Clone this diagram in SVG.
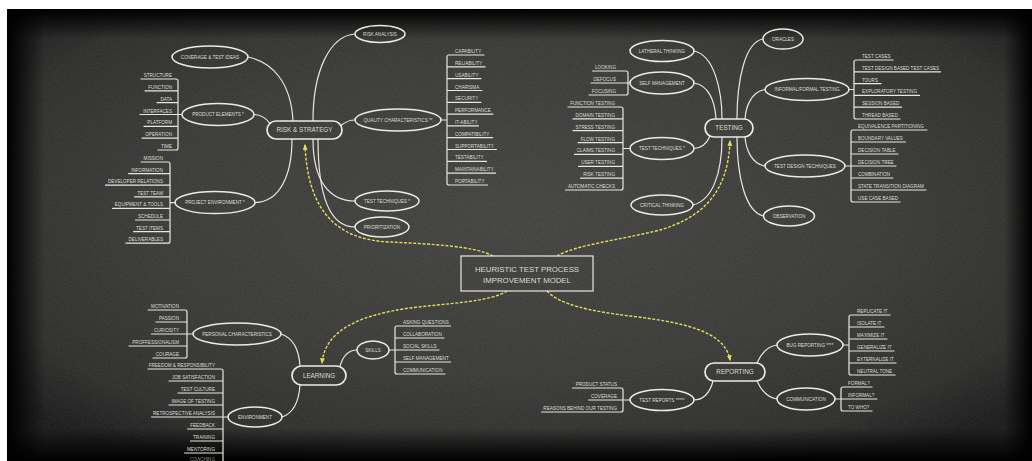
<svg xmlns="http://www.w3.org/2000/svg" width="1032" height="461" viewBox="0 0 1032 461">
<defs>
<radialGradient id="bg" cx="50%" cy="45%" r="65%">
<stop offset="0" stop-color="#454543"/>
<stop offset="0.55" stop-color="#3c3c3a"/>
<stop offset="0.85" stop-color="#30302f"/>
<stop offset="1" stop-color="#1e1e1e"/>
</radialGradient>
<linearGradient id="vt" x1="0" y1="0" x2="0" y2="1"><stop offset="0" stop-color="#000" stop-opacity="1"/><stop offset="1" stop-color="#000" stop-opacity="0"/></linearGradient>
<linearGradient id="vb" x1="0" y1="1" x2="0" y2="0"><stop offset="0" stop-color="#000" stop-opacity="1"/><stop offset="1" stop-color="#000" stop-opacity="0"/></linearGradient>
<linearGradient id="vl" x1="0" y1="0" x2="1" y2="0"><stop offset="0" stop-color="#000" stop-opacity="1"/><stop offset="1" stop-color="#000" stop-opacity="0"/></linearGradient>
<linearGradient id="vr" x1="1" y1="0" x2="0" y2="0"><stop offset="0" stop-color="#000" stop-opacity="1"/><stop offset="1" stop-color="#000" stop-opacity="0"/></linearGradient>
<filter id="noise" x="0" y="0" width="100%" height="100%">
<feTurbulence type="fractalNoise" baseFrequency="0.9" numOctaves="2" seed="3"/>
<feColorMatrix type="matrix" values="0 0 0 0 1  0 0 0 0 1  0 0 0 0 1  0 0 0 0.9 -0.35"/>
</filter>
<marker id="ah" viewBox="0 0 10 10" refX="8" refY="5" markerWidth="6" markerHeight="6" markerUnits="userSpaceOnUse" orient="auto">
<path d="M0,1 L10,5 L0,9 z" fill="#e4de5c"/>
</marker>
<style>
.e{fill:none;stroke:#ecebe4;stroke-width:1.5}
.r{fill:none;stroke:#ecebe4;stroke-width:1.7}
.l{fill:none;stroke:#e8e7e0;stroke-width:1.2;stroke-linecap:round}
.c{fill:none;stroke:#e9e8e1;stroke-width:1.2}
.d{fill:none;stroke:#e4de5c;stroke-width:1.4;stroke-dasharray:3 1.6}
text{font-family:"Liberation Sans",Arial,sans-serif;fill:#dedDd5}
.t{font-size:4.6px}
.s{font-size:4.6px;text-anchor:middle}
.m{font-size:6.3px;text-anchor:middle}
.tc{font-size:7.8px;text-anchor:middle}
.a{text-anchor:end}
</style>
</defs>
<rect width="1032" height="461" fill="#ffffff"/>
<rect x="7" y="9" width="1025" height="452" fill="url(#bg)"/>
<rect x="7" y="9" width="1025" height="452" filter="url(#noise)" opacity="0.14"/>
<rect x="7" y="9" width="1025" height="30" fill="url(#vt)"/>
<rect x="7" y="428" width="1025" height="33" fill="url(#vb)"/>
<rect x="7" y="9" width="38" height="452" fill="url(#vl)"/>
<rect x="1004" y="9" width="28" height="452" fill="url(#vr)"/>

<g id="connectors">
<path class="c" d="M248,57 C272,62 291,82 293,121"/>
<path class="c" d="M355,34 C330,36 313,70 313,121"/>
<path class="c" d="M254,114.5 C262,115 267,119 270,123.5"/>
<path class="c" d="M340.8,125.5 C346,121.5 350,120 355,120"/>
<path class="c" d="M292,139 C292,175 280,202 255,202.6"/>
<path class="c" d="M313,139 C313,182 330,201 355,201"/>
<path class="c" d="M318,139 C318,200 332,227 355,227"/>
<path class="c" d="M694,51 C714,55 722,90 722,119"/>
<path class="c" d="M694,83 C708,85 715,100 716,119"/>
<path class="c" d="M694,148.5 C702,148 707,143 710,136"/>
<path class="c" d="M693,205 C712,200 722,175 722,137"/>
<path class="c" d="M763,39 C745,42 737,80 737,119"/>
<path class="c" d="M765,89.5 C752,92 746,105 745,119"/>
<path class="c" d="M765,166 C752,164 746,150 745,137"/>
<path class="c" d="M763.5,216 C745,212 737,175 737,137"/>
<path class="c" d="M281,334 C293,338 299,350 300,366"/>
<path class="c" d="M282,417 C294,413 299,400 300,385"/>
<path class="c" d="M340,366 C343,356 349,350 357,350"/>
<path class="c" d="M757,363 C762,352 768,346 777,345"/>
<path class="c" d="M757,381 C762,392 768,398 777,399"/>
<path class="c" d="M713,381 C710,393 703,400 694,400"/>
<path class="d" marker-end="url(#ah)" d="M493,256 C475,246 430,244 390,242 C340,240 308,215 305,145"/>
<path class="d" marker-end="url(#ah)" d="M557,256 C575,245 620,240 660,230 C700,218 728,195 730,141"/>
<path class="d" marker-end="url(#ah)" d="M507,291 C490,302 450,303 410,308 C360,315 325,330 322,363"/>
<path class="d" marker-end="url(#ah)" d="M547,291 C560,305 590,311 630,316 C680,322 725,330 730,360"/>
</g>

<g id="center">
<rect x="461" y="256" width="132" height="35" fill="none" stroke="#dcdbd4" stroke-width="1.3"/>
<text class="tc" x="527" y="271.5">HEURISTIC TEST PROCESS</text>
<text class="tc" x="527" y="282.5">IMPROVEMENT MODEL</text>
</g>

<g id="risk-strategy">
<rect class="r" x="267" y="121" width="75" height="18" rx="9"/>
<text class="m" x="304.5" y="132.2">RISK &amp; STRATEGY</text>
</g>
<g id="coverage">
<ellipse class="e" cx="210" cy="57" rx="38" ry="11"/>
<text class="s" x="210" y="58.6">COVERAGE &amp; TEST IDEAS</text>
</g>
<g id="product-elements">
<ellipse class="e" cx="218" cy="114.5" rx="36" ry="11"/>
<text class="s" x="218" y="116.1">PRODUCT ELEMENTS *</text>
</g>
<g id="product-elements-list">
<path class="l" d="M141,79 H176 Q178,79 178,81 V148 Q178,150 176,150 H158 M145,90.8 H178 M157,102.6 H178 M140,114.5 H182 M144,126.3 H178 M142,138.1 H178"/>
<text class="t a" x="172" y="77">STRUCTURE</text>
<text class="t a" x="172" y="88.8">FUNCTION</text>
<text class="t a" x="172" y="100.6">DATA</text>
<text class="t a" x="172" y="112.5">INTERFACES</text>
<text class="t a" x="172" y="124.3">PLATFORM</text>
<text class="t a" x="172" y="136.1">OPERATION</text>
<text class="t a" x="172" y="148">TIME</text>
</g>
<g id="project-environment">
<ellipse class="e" cx="215" cy="202.6" rx="40" ry="11"/>
<text class="s" x="215" y="204.2">PROJECT ENVIRONMENT *</text>
</g>
<g id="project-environment-list">
<path class="l" d="M141,162 H168 Q170,162 170,164 V241.2 Q170,243.2 168,243.2 H126 M128.5,173.6 H170 M105.5,185.2 H170 M134.5,196.8 H170 M112.5,208.4 H170 M135.5,220 H170 M133.5,231.6 H170 M170,202.6 H175"/>
<text class="t a" x="163" y="160">MISSION</text>
<text class="t a" x="163" y="171.6">INFORMATION</text>
<text class="t a" x="163" y="183.2">DEVELOPER RELATIONS</text>
<text class="t a" x="163" y="194.8">TEST TEAM</text>
<text class="t a" x="163" y="206.4">EQUIPMENT &amp; TOOLS</text>
<text class="t a" x="163" y="218">SCHEDULE</text>
<text class="t a" x="163" y="229.6">TEST ITEMS</text>
<text class="t a" x="163" y="241.2">DELIVERABLES</text>
</g>
<g id="risk-analysis">
<ellipse class="e" cx="380" cy="34" rx="25" ry="8.5"/>
<text class="s" x="380" y="35.6">RISK ANALYSIS</text>
</g>
<g id="quality-characteristics">
<ellipse class="e" cx="398" cy="120" rx="43" ry="11"/>
<text class="s" x="398" y="121.6">QUALITY CHARACTERISTICS **</text>
</g>
<g id="quality-characteristics-list">
<path class="l" d="M484,55 H449 Q447,55 447,57 V183 Q447,185 449,185 H487.5 M447,66.8 H485 M447,78.6 H481 M447,90.5 H482 M447,102.3 H481 M447,114.1 H493 M447,125.9 H478.5 M447,137.7 H492.5 M447,149.5 H496.5 M447,161.4 H486.5 M447,173.2 H495.5 M441,120 H447"/>
<text class="t" x="455" y="53">CAPABILITY</text>
<text class="t" x="455" y="64.8">RELIABILITY</text>
<text class="t" x="455" y="76.6">USABILITY</text>
<text class="t" x="455" y="88.5">CHARISMA</text>
<text class="t" x="455" y="100.3">SECURITY</text>
<text class="t" x="455" y="112.1">PERFORMANCE</text>
<text class="t" x="455" y="123.9">IT-ABILITY</text>
<text class="t" x="455" y="135.7">COMPATIBILITY</text>
<text class="t" x="455" y="147.5">SUPPORTABILITY</text>
<text class="t" x="455" y="159.4">TESTABILITY</text>
<text class="t" x="455" y="171.2">MAINTAINABILITY</text>
<text class="t" x="455" y="183">PORTABILITY</text>
</g>
<g id="test-techniques-rs">
<ellipse class="e" cx="387" cy="201" rx="32" ry="10"/>
<text class="s" x="387" y="202.6">TEST TECHNIQUES *</text>
</g>
<g id="prioritization">
<ellipse class="e" cx="382" cy="227" rx="27" ry="10"/>
<text class="s" x="382" y="228.6">PRIORITIZATION</text>
</g>

<g id="testing">
<rect class="r" x="705" y="119" width="48" height="18" rx="9"/>
<text class="m" x="729" y="130.2">TESTING</text>
</g>
<g id="lateral-thinking">
<ellipse class="e" cx="662" cy="51" rx="32" ry="10.5"/>
<text class="s" x="662" y="52.6">LATHERAL THINKING</text>
</g>
<g id="self-management">
<ellipse class="e" cx="662" cy="83" rx="32" ry="11"/>
<text class="s" x="662" y="84.6">SELF MANAGEMENT</text>
</g>
<g id="self-management-list">
<path class="l" d="M592.5,71 H626 Q628,71 628,73 V93 Q628,95 626,95 H589 M591,83 H630"/>
<text class="t a" x="616" y="69">LOOKING</text>
<text class="t a" x="616" y="81">DEFOCUS</text>
<text class="t a" x="616" y="93">FOCUSING</text>
</g>
<g id="test-techniques-t">
<ellipse class="e" cx="662" cy="148.5" rx="32" ry="11"/>
<text class="s" x="662" y="150.1">TEST TECHNIQUES *</text>
</g>
<g id="test-techniques-list">
<path class="l" d="M568,107 H621 Q623,107 623,109 V188 Q623,190 621,190 H565.5 M573,118.9 H623 M573,130.7 H623 M578,142.6 H623 M574.5,154.4 H623 M578.5,166.3 H623 M580.5,178.1 H623 M623,148.5 H630"/>
<text class="t a" x="615" y="105">FUNCTION TESTING</text>
<text class="t a" x="615" y="116.9">DOMAIN TESTING</text>
<text class="t a" x="615" y="128.7">STRESS TESTING</text>
<text class="t a" x="615" y="140.6">FLOW TESTING</text>
<text class="t a" x="615" y="152.4">CLAIMS TESTING</text>
<text class="t a" x="615" y="164.3">USER TESTING</text>
<text class="t a" x="615" y="176.1">RISK TESTING</text>
<text class="t a" x="615" y="188">AUTOMATIC CHECKS</text>
</g>
<g id="critical-thinking">
<ellipse class="e" cx="662" cy="205" rx="31" ry="10"/>
<text class="s" x="662" y="206.6">CRITICAL THINKING</text>
</g>
<g id="oracles">
<ellipse class="e" cx="783" cy="39" rx="20" ry="10"/>
<text class="s" x="783" y="40.6">ORACLES</text>
</g>
<g id="informal-formal-testing">
<ellipse class="e" cx="807" cy="89.5" rx="42" ry="11"/>
<text class="s" x="807" y="91.1">INFORMAL/FORMAL TESTING</text>
</g>
<g id="informal-formal-list">
<path class="l" d="M893,60 H856 Q854,60 854,62 V117 Q854,119 856,119 H900 M854,71.8 H940.5 M854,83.6 H881 M854,95.4 H919.5 M854,107.2 H901.5 M849,89.5 H854"/>
<text class="t" x="862" y="58">TEST CASES</text>
<text class="t" x="862" y="69.8">TEST DESIGN BASED TEST CASES</text>
<text class="t" x="862" y="81.6">TOURS</text>
<text class="t" x="862" y="93.4">EXPLORATORY TESTING</text>
<text class="t" x="862" y="105.2">SESSION BASED</text>
<text class="t" x="862" y="117">THREAD BASED</text>
</g>
<g id="test-design-techniques">
<ellipse class="e" cx="805" cy="166" rx="40" ry="11"/>
<text class="s" x="805" y="167.6">TEST DESIGN TECHNIQUES</text>
</g>
<g id="test-design-list">
<path class="l" d="M927,130 H853 Q851,130 851,132 V200 Q851,202 853,202 H900 M851,142 H905.5 M851,154 H898 M851,166 H896 M851,178 H893 M851,190 H926 M845,166 H851"/>
<text class="t" x="858" y="128">EQUIVALENCE PARTITIONING</text>
<text class="t" x="858" y="140">BOUNDARY VALUES</text>
<text class="t" x="858" y="152">DECISION TABLE</text>
<text class="t" x="858" y="164">DECISION TREE</text>
<text class="t" x="858" y="176">COMBINATION</text>
<text class="t" x="858" y="188">STATE TRANSITION DIAGRAM</text>
<text class="t" x="858" y="200">USE CASE BASED</text>
</g>
<g id="observation">
<ellipse class="e" cx="789" cy="216" rx="25.5" ry="10"/>
<text class="s" x="789" y="217.6">OBSERVATION</text>
</g>

<g id="learning">
<rect class="r" x="292" y="366" width="54" height="19" rx="9.5"/>
<text class="m" x="319" y="377.7">LEARNING</text>
</g>
<g id="personal-characteristics">
<ellipse class="e" cx="237" cy="334" rx="44" ry="11"/>
<text class="s" x="237" y="335.6">PERSONAL CHARACTERISTICS</text>
</g>
<g id="personal-characteristics-list">
<path class="l" d="M148,310 H185 Q187,310 187,312 V356 Q187,358 185,358 H153 M156,322 H187 M151.5,334 H193 M129,346 H187"/>
<text class="t a" x="179" y="308">MOTIVATION</text>
<text class="t a" x="179" y="320">PASSION</text>
<text class="t a" x="179" y="332">CURIOSITY</text>
<text class="t a" x="179" y="344">PROFFESSIONALISM</text>
<text class="t a" x="179" y="356">COURAGE</text>
</g>
<g id="environment">
<ellipse class="e" cx="255" cy="417" rx="27" ry="10"/>
<text class="s" x="255" y="418.6">ENVIRONMENT</text>
</g>
<g id="environment-list">
<path class="l" d="M148,369 H221 Q223,369 223,371 V461 M169,381 H223 M178,393 H223 M169,405 H223 M151.5,417 H228 M187.5,429 H223 M190.5,441 H223 M184.5,453 H223"/>
<text class="t a" x="215" y="367">FREEDOM &amp; RESPONSIBILITY</text>
<text class="t a" x="215" y="379">JOB SATISFACTION</text>
<text class="t a" x="215" y="391">TEST CULTURE</text>
<text class="t a" x="215" y="403">IMAGE OF TESTING</text>
<text class="t a" x="215" y="415">RETROSPECTIVE ANALYSIS</text>
<text class="t a" x="215" y="427">FEEDBACK</text>
<text class="t a" x="215" y="439">TRAINING</text>
<text class="t a" x="215" y="451">MENTORING</text>
<text class="t a" x="215" y="460.6" opacity="0.6">COACHING</text>
</g>
<g id="skills">
<ellipse class="e" cx="373" cy="350" rx="16" ry="9"/>
<text class="s" x="373" y="351.6">SKILLS</text>
</g>
<g id="skills-list">
<path class="l" d="M450.5,326 H397 Q395,326 395,328 V372 Q395,374 397,374 H445 M395,338 H444 M389,350 H439 M395,362 H450.5"/>
<text class="t" x="403" y="324">ASKING QUESTIONS</text>
<text class="t" x="403" y="336">COLLABORATION</text>
<text class="t" x="403" y="348">SOCIAL SKILLS</text>
<text class="t" x="403" y="360">SELF MANAGEMENT</text>
<text class="t" x="403" y="372">COMMUNICATION</text>
</g>

<g id="reporting">
<rect class="r" x="705" y="363" width="60" height="18" rx="9"/>
<text class="m" x="735" y="374.2">REPORTING</text>
</g>
<g id="test-reports">
<ellipse class="e" cx="662" cy="400" rx="32" ry="10.5"/>
<text class="s" x="662" y="401.6">TEST REPORTS *****</text>
</g>
<g id="test-reports-list">
<path class="l" d="M572.5,388 H621 Q623,388 623,390 V410 Q623,412 621,412 H541.5 M588.5,400 H630"/>
<text class="t a" x="617" y="386">PRODUCT STATUS</text>
<text class="t a" x="617" y="398">COVERAGE</text>
<text class="t a" x="617" y="410">REASONS BEHIND OUR TESTING</text>
</g>
<g id="bug-reporting">
<ellipse class="e" cx="810" cy="345" rx="33" ry="11"/>
<text class="s" x="810" y="346.6">BUG REPORTING ****</text>
</g>
<g id="bug-reporting-list">
<path class="l" d="M890,315 H851 Q849,315 849,317 V373 Q849,375 851,375 H895 M849,327 H884 M849,339 H887 M849,351 H894 M849,363 H896 M843,345 H849"/>
<text class="t" x="857" y="313">REPLICATE IT</text>
<text class="t" x="857" y="325">ISOLATE IT</text>
<text class="t" x="857" y="337">MAXIMIZE IT</text>
<text class="t" x="857" y="349">GENERALIZE IT</text>
<text class="t" x="857" y="361">EXTERNALIZE IT</text>
<text class="t" x="857" y="373">NEUTRAL TONE</text>
</g>
<g id="communication">
<ellipse class="e" cx="806" cy="399" rx="29" ry="11"/>
<text class="s" x="806" y="400.6">COMMUNICATION</text>
</g>
<g id="communication-list">
<path class="l" d="M872,387 H843 Q841,387 841,389 V409 Q841,411 843,411 H872 M835,399 H877"/>
<text class="t" x="848" y="385">FORMAL?</text>
<text class="t" x="848" y="397">INFORMAL?</text>
<text class="t" x="848" y="409">TO WHO?</text>
</g>
</svg>
